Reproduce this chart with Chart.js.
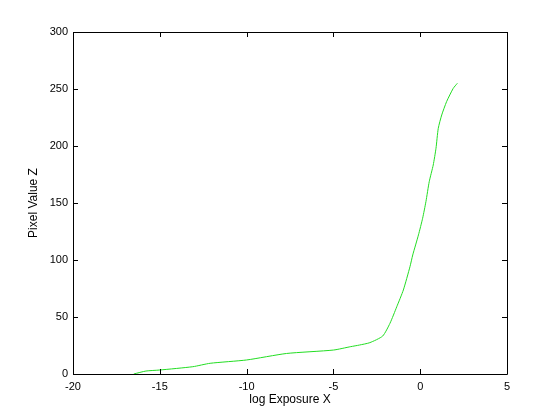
<!DOCTYPE html>
<html>
<head>
<meta charset="utf-8">
<script src="https://cdn.jsdelivr.net/npm/chart.js@4.4.1/dist/chart.umd.min.js"></script>
<style>
  html, body { margin: 0; padding: 0; background: #fff; }
  #wrap { width: 560px; height: 420px; }
</style>
</head>
<body>
<div id="wrap"><canvas id="c"></canvas></div>
<script>
// response curve
const logExposure = [-16.5, -15.8, -15.0, -13.1, -12.1, -10.0, -7.7, -5.0, -4.0, -3.5, -2.9, -2.16, -1.74, -1.35, -0.97, -0.59, -0.43, -0.1, 0.14, 0.33, 0.52, 0.75, 0.91, 1.04, 1.24, 1.52, 1.9, 2.14];
const pixelValue  = [0, 2.6, 3.5, 6.4, 9.4, 12.3, 18, 21, 24, 25.4, 27.5, 33.3, 44.5, 59, 73.7, 94.1, 104.4, 122, 136.6, 151.2, 168.7, 183.3, 198, 215.5, 227.2, 238.9, 250.5, 255];
const xTicks = [-20, -15, -10, -5, 0, 5];
const yTicks = [0, 50, 100, 150, 200, 250, 300];

const points = logExposure.map((x, i) => ({ x: x, y: pixelValue[i] }));

// box + inward ticks on all four sides, MATLAB style
const boxPlugin = {
    id: 'box',
    afterDraw(chart) {
        const ctx = chart.ctx;
        const a = chart.chartArea;
        const xs = chart.scales.x, ys = chart.scales.y;
        const tl = 5;
        ctx.save();
        ctx.strokeStyle = '#000';
        ctx.lineWidth = 1;
        ctx.beginPath();
        ctx.rect(Math.round(a.left) + 0.5, Math.round(a.top) + 0.5, Math.round(a.right - a.left), Math.round(a.bottom - a.top));
        xTicks.forEach(v => {
            const px = Math.round(xs.getPixelForValue(v)) + 0.5;
            ctx.moveTo(px, a.bottom); ctx.lineTo(px, a.bottom - tl);
            ctx.moveTo(px, a.top); ctx.lineTo(px, a.top + tl);
        });
        yTicks.forEach(v => {
            const py = Math.round(ys.getPixelForValue(v)) + 0.5;
            ctx.moveTo(a.left, py); ctx.lineTo(a.left + tl, py);
            ctx.moveTo(a.right, py); ctx.lineTo(a.right - tl, py);
        });
        ctx.stroke();
        ctx.restore();
    }
};

const tickFont = { family: 'Liberation Sans, Arial, sans-serif', size: 11 };
const titleFont = { family: 'Liberation Sans, Arial, sans-serif', size: 12 };

new Chart(document.getElementById('c'), {
    type: 'scatter',
    data: {
        datasets: [{
            data: points,
            showLine: true,
            borderColor: '#22dd22',
            borderWidth: 1,
            pointRadius: 0,
            tension: 0.2
        }]
    },
    options: {
        responsive: true,
        maintainAspectRatio: false,
        animation: false,
        layout: { padding: { left: 0, right: 53, top: 32, bottom: 0 } },
        plugins: { legend: { display: false }, tooltip: { enabled: false } },
        scales: {
            x: {
                type: 'linear',
                min: -20,
                max: 5,
                afterBuildTicks: s => { s.ticks = xTicks.map(v => ({ value: v })); },
                afterFit: s => { s.height = 46; },
                grid: { display: false, drawTicks: false },
                border: { display: false },
                ticks: { color: '#000', font: tickFont, padding: 6, maxRotation: 0 },
                title: { display: true, text: 'log Exposure X', color: '#000', font: titleFont, padding: { top: 0, bottom: 13 } }
            },
            y: {
                type: 'linear',
                min: 0,
                max: 300,
                afterBuildTicks: s => { s.ticks = yTicks.map(v => ({ value: v })); },
                afterFit: s => { s.width = 73; },
                grid: { display: false, drawTicks: false },
                border: { display: false },
                ticks: { color: '#000', font: tickFont, padding: 5 },
                title: { display: true, text: 'Pixel Value Z', color: '#000', font: titleFont, padding: { top: 26, bottom: 0 } }
            }
        }
    },
    plugins: [boxPlugin]
});
</script>
</body>
</html>
